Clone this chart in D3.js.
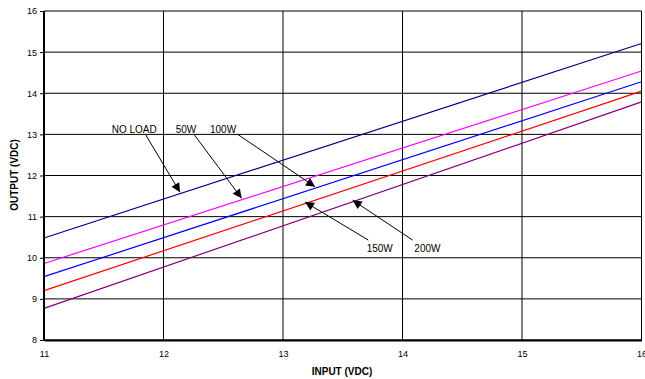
<!DOCTYPE html>
<html>
  <head>
    <meta charset="utf-8">
    <title>Output vs Input</title>
    <script src="https://d3js.org/d3.v7.min.js"></script>
    <style>
      body { margin: 0; background: #fff; }
      text { font-family: "Liberation Sans", Arial, sans-serif; fill: #000; }
      .tick { font-size: 9px; }
      .title { font-size: 10px; font-weight: bold; }
      .note { font-size: 10px; }
    </style>
  </head>
  <body>
  <div id="chart"></div>
  <script>

  // input voltage (x) at the two ends of each line
  var inputs = [11, 16];
  var noLoad = [10.48, 15.21];
  var w50 = [9.86, 14.54];
  var w100 = [9.54, 14.28];
  var w150 = [9.20, 14.05];
  var w200 = [8.77, 13.79];

  var xTicks = [11, 12, 13, 14, 15, 16];
  var yTicks = [8, 9, 10, 11, 12, 13, 14, 15, 16];

  var series = [
    { name: "NO LOAD", values: noLoad, color: "#000080" },
    { name: "50W", values: w50, color: "#ff00ff" },
    { name: "100W", values: w100, color: "#0000ff" },
    { name: "150W", values: w150, color: "#ff0000" },
    { name: "200W", values: w200, color: "#800080" }
  ];

  // callouts: label spot, arrow start and the input where the arrow meets its line
  var notes = [
    { s: 0, tx: 11.567, ty: 13.0, ax: 11.851, ay: 12.99, at: 12.138 },
    { s: 1, tx: 12.102, ty: 13.0, ax: 12.258, ay: 12.99, at: 12.654 },
    { s: 2, tx: 12.389, ty: 13.0, ax: 12.621, ay: 13.0, at: 13.268 },
    { s: 3, tx: 13.700, ty: 10.12, ax: 13.714, ay: 10.43, at: 13.184 },
    { s: 4, tx: 14.099, ty: 10.12, ax: 14.085, ay: 10.43, at: 13.583 }
  ];

  var width = 645, height = 379;
  var m = { left: 44, right: 641.5, top: 11, bottom: 340 };

  var x = d3.scaleLinear().domain([11, 16]).range([m.left, m.right]);
  var y = d3.scaleLinear().domain([8, 16]).range([m.bottom, m.top]);

  var svg = d3.select("#chart").append("svg")
      .attr("width", width)
      .attr("height", height);

  var defs = svg.append("defs");
  defs.append("marker")
      .attr("id", "head")
      .attr("viewBox", "0 0 10 10")
      .attr("refX", 10)
      .attr("refY", 5)
      .attr("markerWidth", 11)
      .attr("markerHeight", 9)
      .attr("markerUnits", "userSpaceOnUse")
      .attr("orient", "auto")
      .append("path")
      .attr("d", "M0,0L10,5L0,10Z")
      .attr("fill", "#000");

  // grid
  svg.selectAll(".hgrid")
      .data(yTicks)
      .enter()
      .append("line")
      .attr("x1", m.left)
      .attr("x2", m.right)
      .attr("y1", function(d){ return y(d); })
      .attr("y2", function(d){ return y(d); })
      .attr("stroke", "#000")
      .attr("stroke-width", 1);

  svg.selectAll(".vgrid")
      .data(xTicks.slice(1))
      .enter()
      .append("line")
      .attr("x1", function(d){ return x(d); })
      .attr("x2", function(d){ return x(d); })
      .attr("y1", m.top)
      .attr("y2", m.bottom)
      .attr("stroke", "#000")
      .attr("stroke-width", 1);

  // series
  var line = d3.line()
      .x(function(d, i){ return x(inputs[i]); })
      .y(function(d){ return y(d); });

  svg.selectAll(".series")
      .data(series)
      .enter()
      .append("path")
      .attr("d", function(d){ return line(d.values); })
      .attr("fill", "none")
      .attr("stroke", function(d){ return d.color; })
      .attr("stroke-width", 1.2);

  // axes
  var yAxis = svg.append("g")
      .attr("transform", "translate(" + m.left + ",0)")
      .call(d3.axisLeft(y).tickValues(yTicks).tickFormat(d3.format("d")).tickSize(4).tickPadding(3));
  yAxis.select(".domain").attr("stroke-width", 2).attr("d", "M0," + m.top + "V" + m.bottom);
  yAxis.selectAll("text").attr("class", "tick").attr("font-size", null).attr("font-family", null);

  var xAxis = svg.append("g")
      .attr("transform", "translate(0," + m.bottom + ")")
      .call(d3.axisBottom(x).tickValues(xTicks).tickFormat(d3.format("d")).tickSize(0).tickPadding(11));
  xAxis.select(".domain").attr("stroke-width", 2);
  xAxis.selectAll("text").attr("class", "tick").attr("font-size", null).attr("font-family", null);

  svg.append("text")
      .attr("class", "title")
      .attr("x", 342)
      .attr("y", 375)
      .attr("text-anchor", "middle")
      .text("INPUT (VDC)");

  svg.append("text")
      .attr("class", "title")
      .attr("transform", "translate(18,175) rotate(-90)")
      .attr("text-anchor", "middle")
      .text("OUTPUT (VDC)");

  // callouts
  function at(n){
    var v = series[n.s].values;
    return v[0] + (v[1] - v[0]) * (n.at - inputs[0]) / (inputs[1] - inputs[0]);
  }

  svg.selectAll(".arrow")
      .data(notes)
      .enter()
      .append("line")
      .attr("x1", function(d){ return x(d.ax); })
      .attr("y1", function(d){ return y(d.ay); })
      .attr("x2", function(d){ return x(d.at); })
      .attr("y2", function(d){ return y(at(d)) - 1.5; })
      .attr("stroke", "#000")
      .attr("stroke-width", 1)
      .attr("marker-end", "url(#head)");

  svg.selectAll(".note")
      .data(notes)
      .enter()
      .append("text")
      .attr("class", "note")
      .attr("x", function(d){ return x(d.tx); })
      .attr("y", function(d){ return y(d.ty) - 1; })
      .text(function(d){ return series[d.s].name; });

  </script>
  </body>
</html>
